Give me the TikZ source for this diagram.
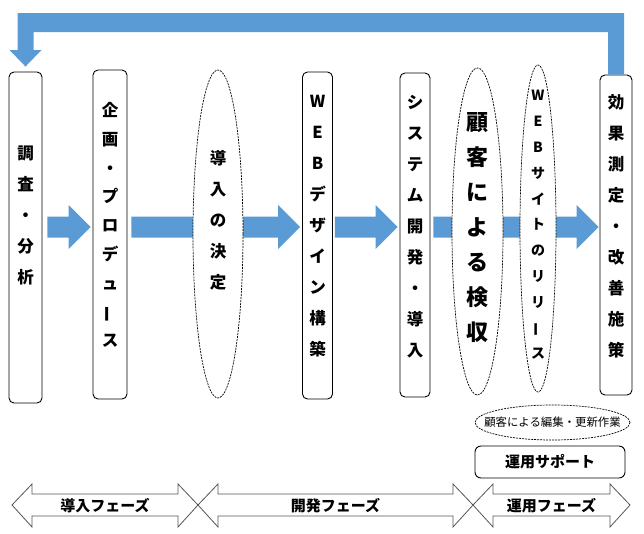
\documentclass[tikz,border=0pt]{standalone}
\usepackage{fontspec}
\usepackage{graphicx}
\setmainfont{Noto Sans CJK JP}
\usetikzlibrary{shapes.geometric,calc}
\definecolor{arrowblue}{RGB}{91,155,213}
\definecolor{phasegray}{RGB}{85,85,85}
\tikzset{
  stepbox/.style={draw,line width=0.9pt,rounded corners=5pt,fill=white,inner sep=0pt},
  decision/.style={ellipse,draw,dash pattern=on 2pt off 1pt,line width=0.7pt,fill=white,inner sep=0pt},
  vlabel/.style={align=center,inner sep=0pt,font=\bfseries\fontsize{16.5}{31}\selectfont},
  phaseline/.style={draw=phasegray,line width=0.8pt,fill=white},
  phasetext/.style={inner sep=0pt,font=\bfseries\fontsize{15}{18}\selectfont}
}
\newcommand{\tatebar}{\rotatebox[origin=c]{90}{ー}}
\newcommand{\blockarrow}[2]{%
  \fill[arrowblue] let \p1=(#1), \p2=(#2) in
    (\x1,\y1+10.5pt) -- (\x2-22pt,\y1+10.5pt) -- (\x2-22pt,\y1+22pt) -- (\x2,\y1)
    -- (\x2-22pt,\y1-22pt) -- (\x2-22pt,\y1-10.5pt) -- (\x1,\y1-10.5pt) -- cycle;}
\newcommand{\phasearrow}[2]{%
  \draw[phaseline] (#1,505) -- (#1+20,484) -- (#1+20,494) -- (#2-20,494) -- (#2-20,484)
    -- (#2,505) -- (#2-20,527) -- (#2-20,516) -- (#1+20,516) -- (#1+20,527) -- cycle;}
\begin{document}
\begin{tikzpicture}[x=1pt,y=-1pt]
  \useasboundingbox (0,0) rectangle (644,533);
  \coordinate (axis) at (0,227);

  \node[stepbox,minimum width=33pt,minimum height=331pt] (chosa) at (25.5,237.5) {};
  \node[stepbox,minimum width=34pt,minimum height=329pt] (kikaku) at (110,234.5) {};
  \node[stepbox,minimum width=30pt,minimum height=327pt] (design) at (317.5,235.5) {};
  \node[stepbox,minimum width=30pt,minimum height=324pt] (system) at (415,235) {};
  \node[stepbox,minimum width=32pt,minimum height=320pt] (kouka) at (616,235) {};

  \blockarrow{$(chosa.east|-axis)+(5,0)$}{$(kikaku.west|-axis)+(-2,0)$}
  \blockarrow{$(kikaku.east|-axis)+(4,0)$}{$(design.west|-axis)+(-2,0)$}
  \blockarrow{$(design.east|-axis)+(2,0)$}{$(system.west|-axis)+(-2,0)$}
  \blockarrow{$(system.east|-axis)+(3,0)$}{$(kouka.west|-axis)+(-1,0)$}

  \fill[arrowblue] let \p1=(kouka.north), \p2=(chosa.north) in
    (\x1+8pt,\y1) -- (\x1+8pt,-13pt) -- (\x2-8pt,-13pt) -- (\x2-8pt,-50pt) -- (\x2-16pt,-50pt)
    -- (\x2,\y2+5pt) -- (\x2+16pt,-50pt) -- (\x2+8pt,-50pt) -- (\x2+8pt,-32pt)
    -- (\x1-8pt,-32pt) -- (\x1-8pt,\y1) -- cycle;

  \node[decision,minimum width=50pt,minimum height=328pt] (dounyu) at (218,234) {};
  \node[decision,minimum width=51pt,minimum height=327pt] (kenshu) at (477.5,231.5) {};
  \node[decision,minimum width=36pt,minimum height=327pt] (release) at (538,228.5) {};

  \node[vlabel] (chosa-t) at (25.5,215.5) {調\\査\\・\\分\\析};
  \node[vlabel,font=\bfseries\fontsize{16.5}{28.75}\selectfont] (kikaku-t) at (110,225)
    {企\\画\\・\\プ\\ロ\\デ\\ュ\\\tatebar\\ス};
  \node[vlabel] (dounyu-t) at (218,220) {導\\入\\の\\決\\定};
  \node[vlabel] (design-t) at (317.5,226.5) {W\\E\\B\\デ\\ザ\\イ\\ン\\構\\築};
  \node[vlabel] (system-t) at (415,226.5) {シ\\ス\\テ\\ム\\開\\発\\・\\導\\入};
  \node[vlabel,font=\bfseries\fontsize{22}{35}\selectfont] (kenshu-t) at (477.5,228)
    {顧\\客\\に\\よ\\る\\検\\収};
  \node[vlabel,font=\bfseries\fontsize{14}{25.8}\selectfont] (release-t) at (538,225)
    {W\\E\\B\\サ\\イ\\ト\\の\\リ\\リ\\\tatebar\\ス};
  \node[vlabel] (kouka-t) at (616,226.5) {効\\果\\測\\定\\・\\改\\善\\施\\策};

  \node[decision,minimum width=155pt,minimum height=35pt] (edit) at (552.5,422.5) {};
  \node[inner sep=0pt,font=\fontsize{11.4}{14}\selectfont] (edit-t) at (edit) {顧客による編集・更新作業};
  \node[stepbox,rounded corners=6pt,minimum width=150pt,minimum height=32pt,
    font=\bfseries\fontsize{15}{18}\selectfont] (support) at (550,462) {運用サポート};

  \phasearrow{12}{198}
  \phasearrow{198}{473}
  \phasearrow{473}{630}
  \node[phasetext] (phase1) at (105,505.5) {導入フェーズ};
  \node[phasetext] (phase2) at (335.5,505.5) {開発フェーズ};
  \node[phasetext] (phase3) at (551.5,505.5) {運用フェーズ};
\end{tikzpicture}
\end{document}
